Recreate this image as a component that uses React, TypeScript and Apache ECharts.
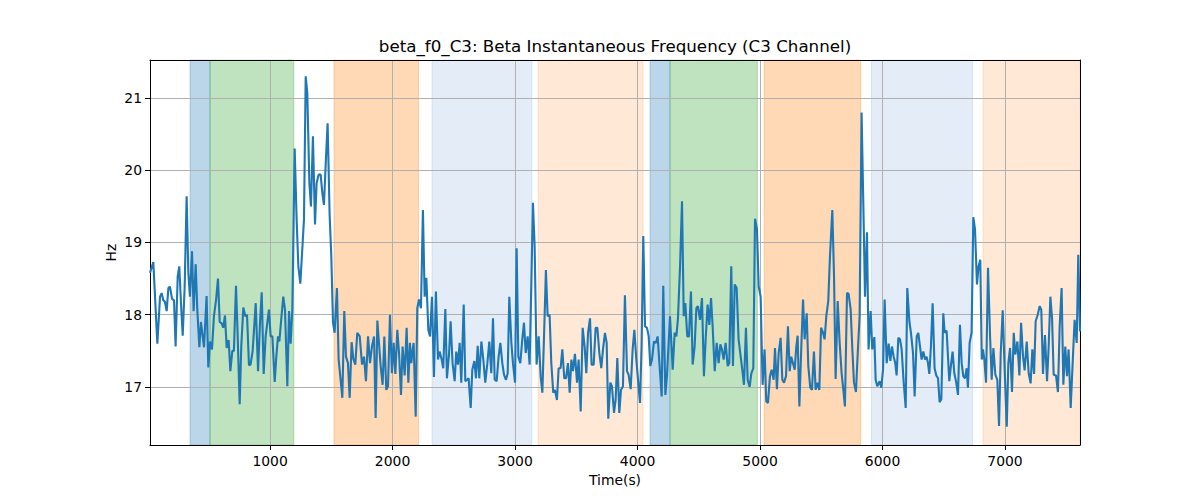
import React, { useEffect, useRef } from "react";
import * as echarts from "echarts";

const times = [
  20, 47, 80, 102, 115, 129, 142, 156, 170, 183, 200, 216, 229, 246, 259, 273, 287, 303, 319, 333, 346, 363, 376, 393, 406, 423, 436, 450, 461, 482, 496, 510, 526, 542, 559, 575, 589, 605, 618, 632, 646, 662, 676, 692, 705, 722, 735, 752, 765, 782, 798, 812, 828, 841, 858,
  883, 902, 918, 932, 948, 964, 978, 991, 1005, 1019, 1038, 1051, 1065, 1076, 1092, 1108, 1122, 1141, 1155, 1168, 1182, 1201, 1217, 1231, 1247, 1263, 1277, 1291, 1304, 1321, 1334, 1350, 1367, 1380, 1397, 1413, 1427, 1440, 1457, 1470, 1486, 1500, 1514, 1527, 1546, 1560, 1576, 1590, 1606, 1620, 1636, 1650, 1666, 1680, 1696, 1712,
  1732, 1751, 1767, 1783, 1800, 1816, 1832, 1849, 1862, 1876, 1889, 1903, 1919, 1933, 1949, 1963, 1979, 1995, 2009, 2023, 2039, 2053, 2069, 2082, 2099, 2115, 2129, 2142, 2153, 2161, 2172, 2189, 2202, 2216, 2232, 2248, 2262, 2276, 2292, 2306, 2322, 2338, 2354, 2371, 2384, 2401, 2414, 2431, 2444, 2461, 2474, 2490, 2507, 2520, 2534, 2548, 2561,
  2581, 2594, 2608, 2621, 2638, 2651, 2668, 2681, 2695, 2708, 2725, 2741, 2757, 2774, 2790, 2806, 2820, 2834, 2850, 2866, 2880, 2896, 2910, 2926, 2940, 2953, 2970, 2983, 3000, 3013, 3027, 3043, 3059, 3073, 3087, 3103, 3119, 3133, 3146, 3160, 3176, 3193, 3209, 3223, 3239, 3252, 3266, 3282, 3296, 3312, 3326, 3342, 3356, 3372, 3386, 3402,
  3416, 3432, 3446, 3460, 3473, 3489, 3506, 3519, 3536, 3552, 3568, 3582, 3596, 3612, 3625, 3642, 3658, 3672, 3688, 3704, 3718, 3734, 3748, 3761, 3778, 3791, 3808, 3821, 3835, 3851, 3865, 3881, 3897, 3914, 3927, 3944, 3960, 3974, 3990, 4006, 4020, 4033, 4047, 4061, 4077, 4091, 4104, 4118, 4134, 4150, 4164, 4180, 4197, 4210, 4227, 4240,
  4265, 4287, 4303, 4317, 4330, 4347, 4363, 4377, 4390, 4406, 4420, 4436, 4450, 4466, 4480, 4493, 4510, 4526, 4542, 4556, 4572, 4586, 4600, 4613, 4630, 4646, 4662, 4676, 4689, 4703, 4719, 4736, 4749, 4765, 4779, 4793, 4809, 4825, 4842, 4855, 4869, 4885, 4899, 4915, 4929, 4945, 4959, 4975, 4989, 5005, 5021, 5037, 5051, 5065, 5081, 5095, 5111,
  5122, 5138, 5152, 5168, 5182, 5196, 5212, 5228, 5242, 5255, 5269, 5283, 5296, 5307, 5321, 5337, 5351, 5364, 5381, 5394, 5410, 5424, 5440, 5454, 5468, 5484, 5498, 5511, 5527, 5541, 5557, 5571, 5590, 5604, 5617, 5634, 5650, 5666, 5680, 5693, 5710, 5723, 5740, 5753, 5767, 5783, 5799, 5813, 5829, 5843, 5857, 5873, 5886, 5903, 5916, 5933, 5944, 5957,
  5977, 5990, 6004, 6017, 6034, 6050, 6064, 6077, 6091, 6104, 6115, 6129, 6143, 6156, 6172, 6189, 6202, 6219, 6232, 6249, 6262, 6279, 6292, 6306, 6319, 6333, 6347, 6360, 6371, 6382, 6395, 6409, 6425, 6439, 6453, 6466, 6480, 6496, 6507, 6523, 6545, 6559, 6572, 6586, 6602, 6616, 6632, 6646, 6659, 6673, 6687, 6697, 6711, 6727, 6741, 6755, 6771, 6784, 6798,
  6810, 6820, 6831, 6845, 6861, 6878, 6891, 6905, 6921, 6937, 6951, 6965, 6981, 6997, 7014, 7027, 7041, 7057, 7071, 7084, 7101, 7117, 7131, 7147, 7160, 7177, 7193, 7209, 7223, 7237, 7250, 7267, 7283, 7296, 7310, 7326, 7343, 7356, 7370, 7384, 7397, 7416, 7432, 7446, 7462, 7476, 7492, 7506, 7519, 7536, 7552, 7568, 7585, 7598, 7612,
];

const hz = [
  18.58, 18.73, 17.6, 18.25, 18.3, 18.2, 18.18, 18.05, 18.37, 18.39, 18.22, 18.2, 17.56, 18.53, 18.67, 18.16, 17.71, 18.39, 19.64, 18.58, 18.25, 18.88, 18.05, 18.7, 18.07, 17.55, 17.9, 17.7, 17.55, 18.26, 17.27, 17.63, 17.52, 17.98, 18.2, 18.5, 17.9, 17.88, 17.82, 17.99, 17.54, 17.65, 17.22, 17.5, 17.5, 18.4, 17.75, 16.76, 17.56, 18.1, 17.98, 18.0, 17.3, 17.31, 17.5,
  18.16, 17.22, 17.89, 18.31, 17.18, 17.7, 17.89, 18.07, 17.7, 17.7, 17.07, 17.42, 17.7, 17.63, 17.95, 18.25, 18.07, 17.01, 18.05, 17.6, 18.07, 20.3, 19.32, 18.67, 18.43, 18.9, 19.32, 21.3, 21.07, 19.82, 19.5, 20.47, 19.25, 19.82, 19.94, 19.94, 19.68, 19.52, 20.19, 20.65, 19.4, 18.81, 17.89, 17.75, 18.37, 17.38, 17.1, 16.85, 18.05, 17.42, 17.33, 16.85, 17.62, 17.39, 17.31, 17.75,
  17.7, 17.31, 17.42, 17.08, 17.7, 17.33, 17.56, 17.7, 16.57, 17.92, 17.61, 17.29, 17.03, 17.7, 16.96, 17.01, 18.0, 17.19, 17.61, 17.18, 17.79, 17.47, 16.89, 17.56, 17.16, 17.82, 17.06, 17.61, 17.33, 17.47, 17.61, 16.59, 18.09, 18.21, 18.09, 19.45, 18.25, 18.51, 17.79, 17.7, 18.25, 17.14, 18.32, 17.38, 17.49, 17.38, 17.26, 18.08, 17.12, 17.45, 17.91, 17.33, 17.08, 17.49, 17.31, 17.61, 17.06,
  18.14, 17.08, 17.1, 17.12, 16.71, 17.24, 17.36, 17.12, 17.57, 17.12, 17.63, 17.38, 17.06, 17.33, 17.63, 17.19, 17.95, 17.1, 17.08, 17.42, 17.61, 17.33, 17.17, 17.1, 17.19, 18.25, 17.61, 17.33, 17.06, 18.92, 17.42, 17.33, 17.66, 17.89, 17.47, 17.7, 17.31, 18.44, 19.55, 18.95, 17.31, 17.7, 17.15, 16.92, 17.84, 18.62, 17.98, 18.0, 17.33, 16.92, 16.96, 16.82, 17.26, 17.26, 17.52, 17.12,
  17.12, 17.33, 16.92, 17.38, 17.22, 17.46, 17.06, 17.38, 16.66, 17.82, 17.56, 17.19, 17.75, 17.95, 17.31, 17.31, 17.82, 17.82, 17.47, 17.26, 17.52, 17.75, 17.61, 16.56, 17.06, 17.01, 16.64, 16.82, 17.4, 16.64, 16.96, 17.01, 18.27, 17.22, 17.17, 16.97, 17.52, 17.79, 17.38, 17.06, 16.78, 17.56, 19.09, 17.84, 17.82, 17.7, 17.29, 17.38, 17.63, 17.61, 17.7, 17.29, 16.87, 18.4, 16.89, 17.15,
  17.98, 17.24, 17.75, 17.7, 17.95, 18.67, 19.57, 17.98, 18.16, 17.7, 17.7, 18.32, 17.31, 17.56, 18.09, 18.12, 17.93, 18.23, 17.15, 17.66, 18.14, 17.86, 18.23, 17.84, 17.22, 17.61, 17.33, 17.59, 17.52, 17.38, 17.61, 17.29, 17.33, 18.67, 17.29, 18.42, 18.37, 17.66, 17.42, 17.24, 17.03, 17.82, 17.1, 17.0, 17.19, 17.26, 19.33, 19.18, 18.39, 18.25, 17.03, 17.52, 16.8, 16.78, 17.15, 17.24, 17.1,
  17.54, 16.97, 17.47, 17.68, 17.1, 17.06, 17.15, 17.84, 17.22, 17.42, 17.33, 17.24, 17.56, 17.71, 16.73, 17.56, 18.21, 17.66, 18.02, 17.29, 16.99, 16.96, 17.49, 16.96, 17.06, 16.96, 17.82, 17.77, 17.66, 17.98, 18.19, 18.81, 19.45, 18.53, 17.11, 18.19, 17.61, 17.19, 16.96, 16.73, 18.3, 18.29, 18.07, 17.54, 17.06, 16.93, 17.52, 17.98, 20.8, 19.55, 18.25, 19.14, 17.52, 18.05, 17.52, 17.69, 17.1, 17.01,
  17.08, 16.99, 17.24, 18.21, 17.33, 17.6, 17.36, 17.56, 17.42, 17.33, 17.16, 17.68, 17.66, 17.52, 17.08, 16.71, 18.37, 17.91, 17.75, 17.47, 16.87, 17.7, 17.75, 17.56, 17.38, 17.49, 17.38, 17.42, 17.33, 17.18, 17.56, 18.16, 17.26, 17.16, 17.12, 16.79, 16.83, 18.02, 17.75, 17.78, 17.08, 17.31, 17.49, 17.19, 17.06, 16.89, 17.86, 17.33, 17.15, 17.12, 17.26, 16.99, 17.61, 17.75, 19.35, 19.18, 18.42, 18.67, 18.76,
  17.38, 17.52, 17.38, 17.06, 18.65, 17.7, 17.1, 17.54, 17.17, 17.1, 16.46, 17.47, 18.06, 17.24, 16.45, 17.33, 17.54, 16.93, 17.75, 17.45, 17.63, 17.16, 17.89, 17.42, 17.23, 17.63, 17.19, 17.05, 17.52, 17.18, 17.91, 18.0, 18.12, 18.07, 17.18, 17.72, 17.08, 17.55, 18.25, 17.95, 17.17, 17.16, 16.93, 17.84, 18.37, 17.03, 17.56, 17.15, 17.52, 16.71, 17.33, 17.93, 17.61, 18.83, 17.77,
];

const spanStarts = [347, 510, 1522, 2322, 3188, 4102, 4265, 5033, 5909, 6820];
const spanEnds = [510, 1194, 2212, 3137, 4045, 4265, 4978, 5822, 6736, 7612];
const spanKinds = ["blue", "green", "orange", "lightblue", "lightorange", "blue", "green", "orange", "lightblue", "lightorange"];

const xTicks = [1000, 2000, 3000, 4000, 5000, 6000, 7000];
const yTicks = [17, 18, 19, 20, 21];

const X_MIN = 20;
const X_MAX = 7612;
const Y_MIN = 16.197;
const Y_MAX = 21.526;

const SPAN_COLORS: Record<string, string> = {
  blue: "rgba(31,119,180,0.3)",
  green: "rgba(44,160,44,0.3)",
  orange: "rgba(255,127,14,0.3)",
  lightblue: "rgba(60,120,200,0.14)",
  lightorange: "rgba(255,127,14,0.17)",
};

const FONT = "DejaVu Sans";

export default function App() {
  const ref = useRef<HTMLDivElement>(null);

  useEffect(() => {
    if (!ref.current) return;
    const chart = echarts.init(ref.current, null, { renderer: "svg" });

    const lineData = times.map((t, i) => [t, hz[i]]);
    const areas = spanStarts.map((s, i) => [
      {
        xAxis: s,
        itemStyle: {
          color: SPAN_COLORS[spanKinds[i]],
          borderColor: SPAN_COLORS[spanKinds[i]],
          borderWidth: 1,
        },
      },
      { xAxis: spanEnds[i] },
    ]);

    const labelStyle = { color: "#000", fontFamily: FONT, fontSize: 13.9 };
    const plain = (v: number) => String(v);

    chart.setOption({
      animation: false,
      backgroundColor: "#fff",
      title: {
        text: "beta_f0_C3: Beta Instantaneous Frequency (C3 Channel)",
        left: 615,
        top: 37,
        textAlign: "center",
        padding: 0,
        textStyle: { color: "#000", fontFamily: FONT, fontSize: 16.7, fontWeight: "normal" },
      },
      grid: {
        left: 150,
        top: 60,
        width: 930,
        height: 385,
        show: false,
      },
      xAxis: [
        {
          type: "value",
          min: X_MIN,
          max: X_MAX,
          z: 3,
          name: "Time(s)",
          nameLocation: "middle",
          nameGap: 28,
          nameTextStyle: labelStyle,
          axisLine: { show: true, onZero: false, lineStyle: { color: "#000", width: 1 } },
          axisTick: { show: true, length: 5, lineStyle: { color: "#000", width: 1 }, customValues: xTicks },
          axisLabel: { ...labelStyle, margin: 9, customValues: xTicks, formatter: plain },
          splitLine: { show: true, lineStyle: { color: "#b0b0b0", width: 1 } },
        },
        {
          type: "value",
          position: "top",
          min: X_MIN,
          max: X_MAX,
          z: 3,
          axisLine: { show: true, onZero: false, lineStyle: { color: "#000", width: 1 } },
          axisTick: { show: false },
          axisLabel: { show: false },
          splitLine: { show: false },
        },
      ],
      yAxis: [
        {
          type: "value",
          min: Y_MIN,
          max: Y_MAX,
          z: 3,
          name: "Hz",
          nameLocation: "middle",
          nameGap: 32,
          nameMoveOverlap: false,
          nameRotate: 90,
          nameTextStyle: labelStyle,
          axisLine: { show: true, onZero: false, lineStyle: { color: "#000", width: 1 } },
          axisTick: { show: true, length: 5, lineStyle: { color: "#000", width: 1 }, customValues: yTicks },
          axisLabel: { ...labelStyle, margin: 8, customValues: yTicks, formatter: plain },
          splitLine: { show: true, lineStyle: { color: "#b0b0b0", width: 1 } },
        },
        {
          type: "value",
          position: "right",
          min: Y_MIN,
          max: Y_MAX,
          z: 3,
          axisLine: { show: true, onZero: false, lineStyle: { color: "#000", width: 1 } },
          axisTick: { show: false },
          axisLabel: { show: false },
          splitLine: { show: false },
        },
      ],
      series: [
        {
          type: "line",
          xAxisIndex: 0,
          yAxisIndex: 0,
          z: 5,
          data: lineData,
          showSymbol: false,
          symbol: "none",
          lineStyle: { color: "#1f77b4", width: 2.1 },
          clip: true,
          markArea: {
            silent: true,
            z: 1,
            data: areas,
          },
        },
      ],
    });

    return () => chart.dispose();
  }, []);

  return (
    <div
      ref={ref}
      style={{ position: "fixed", left: 0, top: 0, width: 1200, height: 500, background: "#fff" }}
    />
  );
}
